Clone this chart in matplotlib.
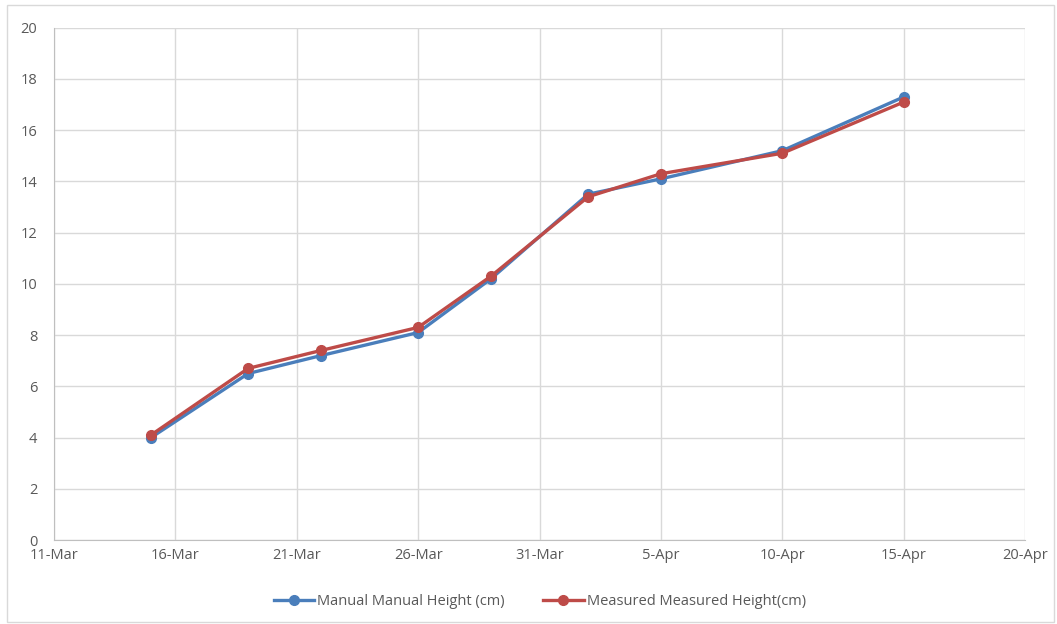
import datetime as dt
import matplotlib
matplotlib.use("Agg")
import matplotlib.pyplot as plt
from matplotlib.patches import Rectangle

# measurement dates and heights (cm)
dates = ["2020-03-15", "2020-03-19", "2020-03-22", "2020-03-26", "2020-03-29",
         "2020-04-02", "2020-04-05", "2020-04-10", "2020-04-15"]
manual_height = [4.0, 6.5, 7.2, 8.1, 10.2, 13.5, 14.1, 15.2, 17.3]
measured_height = [4.1, 6.7, 7.4, 8.3, 10.3, 13.4, 14.3, 15.1, 17.1]

x = [dt.datetime.strptime(d, "%Y-%m-%d") for d in dates]

plt.rcParams['font.family'] = ['Open Sans', 'DejaVu Sans']
text_col = '#595959'
grid_col = '#d9d9d9'

fig = plt.figure(figsize=(10.57, 6.24), dpi=100)
fig.patches.append(Rectangle((0.007, 0.004), 0.990, 0.988, transform=fig.transFigure,
                             fill=False, edgecolor='#d9d9d9', linewidth=1))
ax = fig.add_axes([0.051, 0.1346, 0.919, 0.821])

ax.plot(x, manual_height, color='#4a7ebb', linewidth=2.4, marker='o', markersize=7,
        label='Manual Manual Height (cm)', zorder=3)
ax.plot(x, measured_height, color='#be4b48', linewidth=2.4, marker='o', markersize=7,
        label='Measured Measured Height(cm)', zorder=4)

ax.set_xlim(dt.datetime(2020, 3, 11), dt.datetime(2020, 4, 20))
ax.set_ylim(0, 20)
ax.set_yticks(range(0, 21, 2))
ticks = [dt.datetime(2020, 3, 11) + dt.timedelta(days=5 * i) for i in range(9)]
ax.set_xticks(ticks)
ax.set_xticklabels([f"{t.day}-{t.strftime('%b')}" for t in ticks])

ax.grid(True, color=grid_col, linewidth=1)
ax.set_axisbelow(True)
for s in ['top', 'right']:
    ax.spines[s].set_visible(False)
for s in ['left', 'bottom']:
    ax.spines[s].set_color('#bfbfbf')
ax.tick_params(length=0, colors=text_col, labelsize=10.5)
ax.tick_params(axis='y', pad=12)
ax.tick_params(axis='x', pad=6)

ax.legend(loc='upper center', bbox_to_anchor=(0.5, -0.08), ncol=2, frameon=False,
          fontsize=10.5, labelcolor=text_col, handlelength=2.8, columnspacing=2.6,
          handletextpad=0.2)

fig.savefig('out.png', dpi=100)
